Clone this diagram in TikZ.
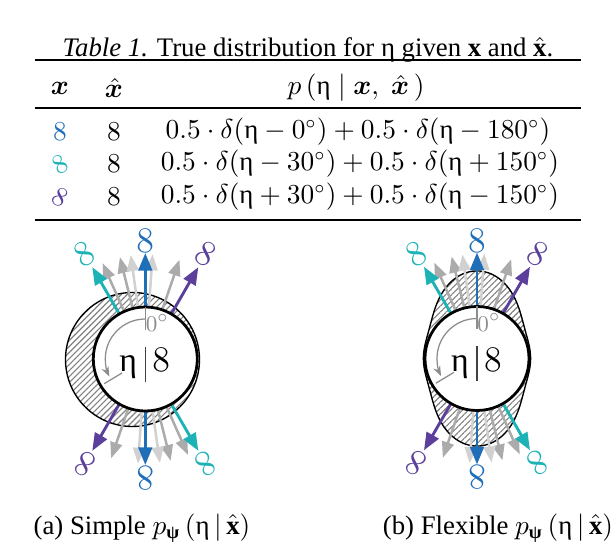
\documentclass[tikz,border=0pt]{standalone}
\usepackage{amsmath,amssymb,bm}
\usepackage{fontspec}
\setmainfont{Liberation Serif}
\usetikzlibrary{arrows.meta,patterns.meta}
\definecolor{cblue}{HTML}{1F6EB8}
\definecolor{ccyan}{HTML}{1DB3B6}
\definecolor{cpurp}{HTML}{5B3F9B}
\newcommand{\eet}{\text{η}}
\newcommand{\bpsi}{\text{\textbf{ψ}}}
\tikzset{
  hatch/.style={pattern={Lines[angle=45,distance=1.7pt,line width=0.45pt]},pattern color=black!50},
  outline/.style={draw=black,line width=0.55pt},
  ring/.style={draw=black,line width=1.1pt,fill=white},
  arr/.style={line width=1.15pt,-{Triangle[length=7pt,width=5.4pt]}},
  garr/.style={line width=1pt,-{Triangle[length=6.4pt,width=4.8pt]}},
  gA/.style={draw=black!33},
  gB/.style={draw=black!18},
  lbl/.style={font=\fontsize{15}{17}\selectfont,inner sep=0pt},
  tbl/.style={font=\fontsize{10.7}{12}\selectfont,inner sep=0pt},
  rulethick/.style={line width=1pt},
  rulethin/.style={line width=0.6pt},
}
\newcommand{\etafig}[3]{%
\begin{scope}[shift={#2}]
#3
\foreach \a/\c [count=\i] in {24/gA,14/gA,8/gB,-4/gB,-19/gA,204/gA,194/gA,188/gB,176/gB,161/gA}{
  \coordinate (#1-gs\i) at ({90+\a}:52);
  \coordinate (#1-ge\i) at ({90+\a}:105);
  \draw[garr,\c] (#1-gs\i) -- (#1-ge\i);
}
\foreach \a/\c/\r [count=\i] in {0/cblue/118,180/cblue/119,30/ccyan/121,-150/ccyan/121,-30/cpurp/121,150/cpurp/121}{
  \coordinate (#1-s\i) at ({90+\a}:52);
  \coordinate (#1-e\i) at ({90+\a}:106);
  \draw[arr,draw=\c] (#1-s\i) -- (#1-e\i);
  \node[lbl,text=\c,rotate=\a] (#1-l\i) at ({90+\a}:\r) {$8$};
}
\node[ring,circle,minimum size=104*0.4pt,inner sep=0pt] (#1-c) at (0,0) {};
\coordinate (#1-t0) at (90:52);
\coordinate (#1-t1) at (90:29);
\draw[black!45,line width=0.5pt] (#1-t0) -- (#1-t1);
\draw[black!45,line width=0.5pt,-{Stealth[length=4pt,width=3pt]}] (90:40) arc[start angle=90,end angle=206,radius=40];
\coordinate (#1-r0) at (211:27);
\coordinate (#1-r1) at (211:48);
\draw[black!45,line width=0.5pt] (#1-r0) -- (#1-r1);
\node[text=black!45,font=\fontsize{9.5}{10}\selectfont,inner sep=0pt] (#1-zero) at (12,36) {$0^\circ$};
\node[font=\fontsize{13.5}{15}\selectfont,anchor=base,inner sep=0pt] (#1-eta) at (-17,-12.5) {η};
\node[font=\fontsize{13.5}{15}\selectfont,anchor=base,inner sep=0pt] (#1-eight) at (16,-12.5) {$8$};
\coordinate (#1-b0) at (0,12);
\coordinate (#1-b1) at (0,-23);
\draw[black!75,line width=0.5pt] (#1-b0) -- (#1-b1);
\end{scope}}
\begin{document}
\begin{tikzpicture}[x=0.4pt,y=0.4pt]
\useasboundingbox (0,0) rectangle (616,542);
% ---------- table ----------
\node[tbl] (cap) at (308,492) {\textit{Table 1.} True distribution for η given $\mathbf{x}$ and $\hat{\mathbf{x}}$.};
\coordinate (r1a) at (35,482); \coordinate (r1b) at (581,482);
\coordinate (r2a) at (35,434); \coordinate (r2b) at (581,434);
\coordinate (r3a) at (35,322); \coordinate (r3b) at (581,322);
\draw[rulethick] (r1a) -- (r1b);
\draw[rulethin] (r2a) -- (r2b);
\draw[rulethick] (r3a) -- (r3b);
\node[tbl] (h1) at (60,454) {$\bm{x}$};
\node[tbl] (h2) at (114,454) {$\hat{\bm{x}}$};
\node[tbl] (h3) at (356,454) {$p\,(\eet\;|\;\bm{x},\;\hat{\bm{x}}\,)$};
\node[tbl,text=cblue] (a1) at (60,410) {$8$};
\node[tbl,text=ccyan,rotate=30] (a2) at (60,378) {$8$};
\node[tbl,text=cpurp,rotate=-30] (a3) at (60,345) {$8$};
\node[tbl] (b1) at (114,410) {$8$};
\node[tbl] (b2) at (114,378) {$8$};
\node[tbl] (b3) at (114,345) {$8$};
\node[tbl] (f1) at (358,410) {$0.5\cdot\delta(\eet-0^\circ)+0.5\cdot\delta(\eet-180^\circ)$};
\node[tbl] (f2) at (360,378) {$0.5\cdot\delta(\eet-30^\circ)+0.5\cdot\delta(\eet+150^\circ)$};
\node[tbl] (f3) at (360,345) {$0.5\cdot\delta(\eet+30^\circ)+0.5\cdot\delta(\eet-150^\circ)$};
% ---------- diagrams ----------
\etafig{A}{(145.3,183)}{%
  \path[hatch] (-12.8,-0.5) circle[radius=67];
  \draw[outline] (-12.8,-0.5) circle[radius=67];}
\etafig{B}{(477,183.5)}{%
  \path[hatch] plot[domain=0:357.5,samples=144,smooth cycle] (\x:{53.6+34*pow(sin(\x),4)});
  \draw[outline] plot[domain=0:357.5,samples=144,smooth cycle] (\x:{53.6+34*pow(sin(\x),4)});}
% ---------- captions ----------
\node[tbl] (capA) at (142,14) {(a) Simple $p_{\bpsi}\,(\eet\,|\,\hat{\mathbf{x}})$};
\node[tbl] (capB) at (498,14) {(b) Flexible $p_{\bpsi}\,(\eet\,|\,\hat{\mathbf{x}})$};
\end{tikzpicture}
\end{document}
